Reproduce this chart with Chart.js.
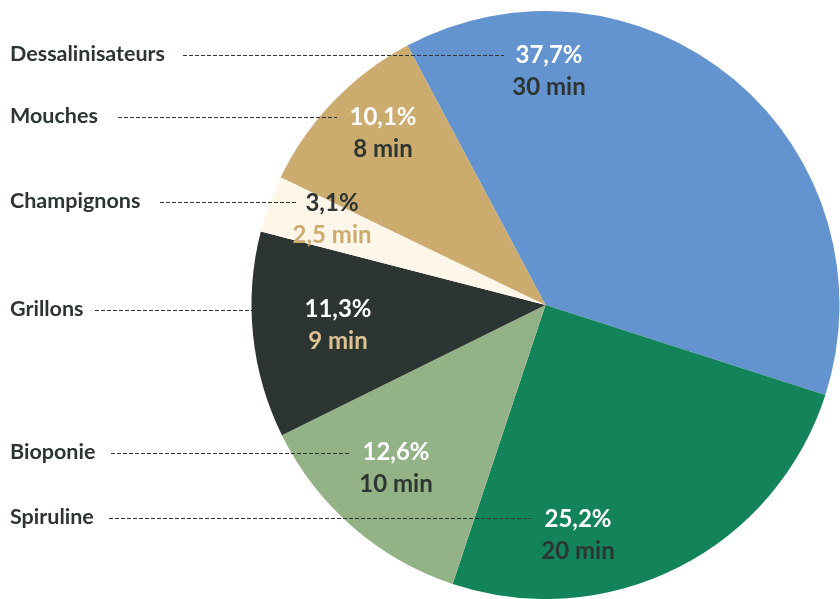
<!DOCTYPE html>
<html>
<head>
<meta charset="utf-8">
<script src="https://cdn.jsdelivr.net/npm/chart.js@4.4.0/dist/chart.umd.min.js"></script>
<style>
  html, body { margin: 0; padding: 0; background: #fff; }
  #wrap { width: 840px; height: 599px; }
</style>
</head>
<body>
<div id="wrap"><canvas id="pieChart"></canvas></div>
<script>
// temps par filière (minutes)
var labels = ["Dessalinisateurs", "Spiruline", "Bioponie", "Grillons", "Champignons", "Mouches"];
var minutes = [30, 20, 10, 9, 2.5, 8];
var minuteLabels = ["30 min", "20 min", "10 min", "9 min", "2,5 min", "8 min"];
var percentLabels = ["37,7%", "25,2%", "12,6%", "11,3%", "3,1%", "10,1%"];

var slice_colors = ["#6394cf", "#138459", "#93b386", "#2c3531", "#fff6ea", "#ccab6f"];
var pct_colors = ["#ffffff", "#ffffff", "#ffffff", "#ffffff", "#2c3531", "#ffffff"];
var min_colors = ["#2c3531", "#2c3531", "#2c3531", "#dcc391", "#ccab6f", "#2c3531"];

// emplacement des étiquettes : [y nom, début pointillés, fin pointillés, x étiquette, y étiquette]
var label_layout = [
  [54, 183, 504, 549, 55],
  [517, 109, 532, 578, 519],
  [452, 111, 350, 396, 452],
  [309, 95, 292, 338, 309],
  [201, 160, 296, 332, 203],
  [116, 118, 337, 383, 117]
];

var text_dark = "#2c3531";
var font_family = "Lato, 'Open Sans', sans-serif";

var labelsPlugin = {
  id: 'sideLabels',
  afterDraw: function(chart) {
    var ctx = chart.ctx;
    ctx.save();
    for (var i = 0; i < labels.length; i++) {
      var l = label_layout[i];
      // nom de la filière
      ctx.font = "bold 21.5px " + font_family;
      ctx.fillStyle = text_dark;
      ctx.textAlign = "left";
      ctx.textBaseline = "middle";
      ctx.fillText(labels[i], 10, l[0]);
      // trait pointillé
      ctx.beginPath();
      ctx.setLineDash([4, 2]);
      ctx.lineWidth = 1;
      ctx.strokeStyle = "#2c3531";
      ctx.moveTo(l[1], l[0] + 1.5);
      ctx.lineTo(l[2], l[0] + 1.5);
      ctx.stroke();
      ctx.setLineDash([]);
      // pourcentage + durée
      ctx.textAlign = "center";
      ctx.font = "bold 24px " + font_family;
      ctx.fillStyle = pct_colors[i];
      ctx.fillText(percentLabels[i], l[3], l[4]);
      ctx.fillStyle = min_colors[i];
      ctx.fillText(minuteLabels[i], l[3], l[4] + 32);
    }
    ctx.restore();
  }
};

var pie_ctx = document.getElementById("pieChart").getContext('2d');
var pie_chart = new Chart(pie_ctx, {
  type: 'pie',
  data: {
    labels: labels,
    datasets: [{
      data: minutes,
      backgroundColor: slice_colors,
      borderWidth: 0
    }]
  },
  options: {
    responsive: true,
    maintainAspectRatio: false,
    animation: false,
    rotation: -28,
    layout: { padding: { left: 251, right: 0, top: 11, bottom: -1 } },
    plugins: {
      legend: { display: false },
      tooltip: { enabled: false }
    }
  },
  plugins: [labelsPlugin]
});
</script>
</body>
</html>
